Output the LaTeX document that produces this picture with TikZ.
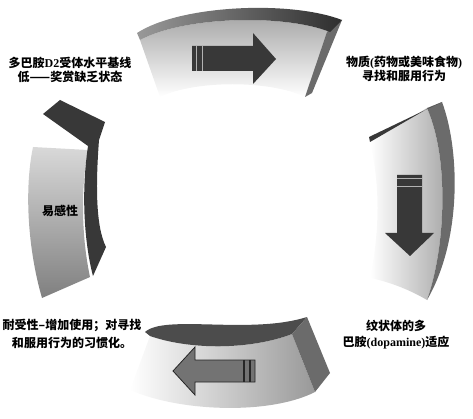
\documentclass[tikz,border=0pt]{standalone}
\usepackage{fontspec}
\setmainfont{Liberation Serif}
\newfontfamily\cjk{Noto Sans CJK SC}
\tikzset{
  rim/.style={fill=black!78},
  side/.style={fill=black!58},
  bigarrow/.style={fill=black!78},
  stripe/.style={black!30,line width=1pt},
  cjktext/.style={font=\cjk\bfseries\fontsize{12}{14}\selectfont,align=center,inner sep=0pt}
}
\begin{document}
\begin{tikzpicture}[x=1pt,y=-1pt]
\useasboundingbox (0,0) rectangle (473,419);
% top
\shade[top color=black!35,bottom color=white] (140,40) .. controls (185,16) and (285,14) .. (330,32) -- (305,97) .. controls (270,80) and (195,80) .. (160,97) -- cycle;
\fill[side] (342,20) -- (327,32) -- (305,97) -- (312,93) -- cycle;
\shade[left color=black!40,right color=black!82] (137,33) .. controls (180,5) and (290,0) .. (342,20) -- (330,32) .. controls (285,14) and (185,16) .. (140,40) -- cycle;
\fill[bigarrow] (192,46) -- (253,46) -- (253,33) -- (276,59) -- (253,84) -- (253,71) -- (192,71) -- cycle;
\draw[stripe] (196,46) -- (196,71) (202,46) -- (202,71);
% right
\shade[left color=white,right color=black!35] (370,142) -- (427,108) .. controls (450,160) and (445,250) .. (427,300) .. controls (410,290) and (390,282) .. (370,278) .. controls (380,230) and (380,185) .. (370,142) -- cycle;
\fill[side] (442,102) .. controls (460,150) and (462,240) .. (427,300) .. controls (445,250) and (450,160) .. (427,108) -- cycle;
\fill[rim] (369,137) -- (442,102) -- (427,109) -- (370,142) -- cycle;
\fill[bigarrow] (397,175) -- (422,175) -- (422,233) -- (434,233) -- (410,256) -- (385,233) -- (397,233) -- cycle;
\draw[stripe] (397,179) -- (422,179) (397,187) -- (422,187);
% bottom
\shade[left color=white,right color=black!40] (150,336) .. controls (190,350) and (250,350) .. (292,334) -- (315,392) .. controls (270,415) and (180,412) .. (130,390) -- cycle;
\fill[black!70] (145,332) .. controls (165,314) and (250,335) .. (307,317) -- (292,334) .. controls (250,350) and (190,350) .. (150,336) -- cycle;
\fill[side] (307,317) -- (330,373) -- (315,392) -- (292,334) -- cycle;
\filldraw[fill=black!55,draw=black!85,line width=0.8pt] (255,360) -- (195,360) -- (195,347) -- (173,371) -- (195,395) -- (195,382) -- (255,382) -- cycle;
\draw[black!85,line width=1.2pt] (244,360) -- (244,382) (250,360) -- (250,382);
% left
\shade[top color=black!15,bottom color=black!50] (33,147) -- (88,150) .. controls (82,180) and (80,230) .. (90,277) -- (42,298) .. controls (28,250) and (24,190) .. (33,147) -- cycle;
\fill[rim] (43,114) -- (60,100) -- (105,122) -- (99,140) .. controls (96,180) and (95,225) .. (106,247) -- (93,276) .. controls (86,250) and (80,200) .. (88,146) -- cycle;
% labels
\node[cjktext] (lowd2) at (70,70) {多巴胺{\rmfamily\bfseries D2}受体水平基线\\低——奖赏缺乏状态};
\node[cjktext] (seeking) at (404,69) {物质{\rmfamily(}药物或美味食物{\rmfamily)}\\寻找和服用行为};
\node[cjktext] (vulner) at (60,211) {易感性};
\node[cjktext,font=\cjk\bfseries\fontsize{12}{18}\selectfont] (tolerance) at (72,334) {耐受性–增加使用；对寻找\\和服用行为的习惯化。};
\node[cjktext,font=\cjk\bfseries\fontsize{12}{16}\selectfont] (adapt) at (396,335) {纹状体的多\\巴胺{\rmfamily(dopamine)}适应};
\end{tikzpicture}
\end{document}
